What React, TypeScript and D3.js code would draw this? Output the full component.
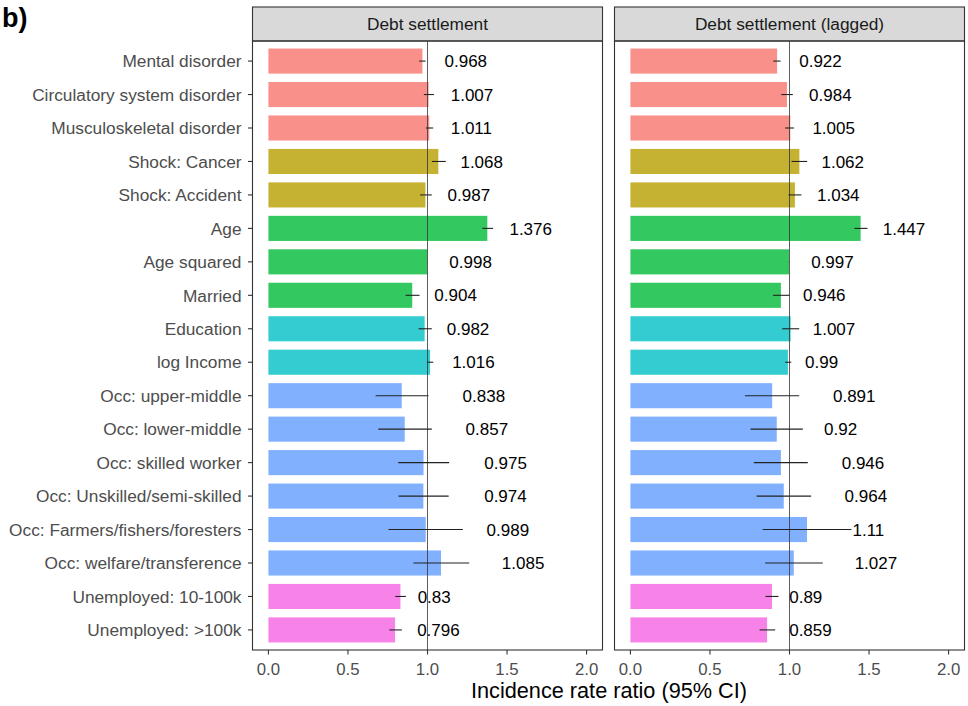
import React from "react";
import * as d3 from "d3";

// Covariates, top to bottom
const covariates = [
  "Mental disorder",
  "Circulatory system disorder",
  "Musculoskeletal disorder",
  "Shock: Cancer",
  "Shock: Accident",
  "Age",
  "Age squared",
  "Married",
  "Education",
  "log Income",
  "Occ: upper-middle",
  "Occ: lower-middle",
  "Occ: skilled worker",
  "Occ: Unskilled/semi-skilled",
  "Occ: Farmers/fishers/foresters",
  "Occ: welfare/transference",
  "Unemployed: 10-100k",
  "Unemployed: >100k",
];

// Covariate group of each row
const groups = [
  "health", "health", "health",
  "shock", "shock",
  "demo", "demo", "demo",
  "ses", "ses",
  "occ", "occ", "occ", "occ", "occ", "occ",
  "unemp", "unemp",
];

const groupOrder = ["health", "shock", "demo", "ses", "occ", "unemp"];
const groupColors = ["#F8766D", "#B79F00", "#00BA38", "#00BFC4", "#619CFF", "#F564E3"];

const panels = ["Debt settlement", "Debt settlement (lagged)"];

// Incidence rate ratios with 95% CI — Debt settlement
const irrDebt = [0.968, 1.007, 1.011, 1.068, 0.987, 1.376, 0.998, 0.904, 0.982, 1.016, 0.838, 0.857, 0.975, 0.974, 0.989, 1.085, 0.83, 0.796];
const lowerDebt = [0.948, 0.977, 0.99, 1.027, 0.954, 1.345, 0.997, 0.862, 0.944, 0.997, 0.674, 0.691, 0.816, 0.818, 0.755, 0.912, 0.797, 0.76];
const upperDebt = [0.988, 1.04, 1.036, 1.115, 1.027, 1.412, 0.999, 0.95, 1.027, 1.036, 1.006, 1.027, 1.136, 1.133, 1.222, 1.262, 0.864, 0.839];

// Incidence rate ratios with 95% CI — Debt settlement (lagged)
const irrLagged = [0.922, 0.984, 1.005, 1.062, 1.034, 1.447, 0.997, 0.946, 1.007, 0.99, 0.891, 0.92, 0.946, 0.964, 1.11, 1.027, 0.89, 0.859];
const lowerLagged = [0.898, 0.948, 0.973, 1.013, 0.994, 1.408, 0.996, 0.896, 0.954, 0.973, 0.72, 0.755, 0.776, 0.793, 0.831, 0.847, 0.849, 0.812];
const upperLagged = [0.944, 1.021, 1.028, 1.111, 1.075, 1.49, 0.998, 1.0, 1.061, 1.011, 1.061, 1.084, 1.115, 1.136, 1.389, 1.209, 0.931, 0.91];

const xTicks = [0, 0.5, 1, 1.5, 2];
const xTitle = "Incidence rate ratio (95% CI)";
const tag = "b)";

const FONT = "'Liberation Sans', Arial, Helvetica, sans-serif";

let measureCtx: CanvasRenderingContext2D | null = null;
function textWidth(s: string, size: number): number {
  if (!measureCtx) {
    const c = document.createElement("canvas");
    measureCtx = c.getContext("2d");
  }
  if (!measureCtx) return s.length * size * 0.5;
  measureCtx.font = `${size}px ${FONT}`;
  return measureCtx.measureText(s).width;
}

const W = 968;
const H = 706;
const panelTop = 41;
const panelBottom = 650;
const stripTop = 7;
const panelX = [
  [252.5, 602.5],
  [614.5, 964.5],
];

export default function App() {
  const series = [
    { est: irrDebt, lo: lowerDebt, hi: upperDebt },
    { est: irrLagged, lo: lowerLagged, hi: upperLagged },
  ];

  const y = d3.scalePoint<string>().domain(covariates).range([panelTop, panelBottom]).padding(0.6);
  const barH = y.step() * 0.75;
  const color = d3.scaleOrdinal<string, string>().domain(groupOrder).range(groupColors);
  const fmt = (v: number) => String(v);
  const labelSize = 17;

  return (
    <svg
      width={W}
      height={H}
      viewBox={`0 0 ${W} ${H}`}
      style={{ position: "absolute", left: 0, top: 0, background: "#fff" }}
      fontFamily={FONT}
    >
      <rect x={0} y={0} width={W} height={H} fill="#fff" />
      <text x={2} y={27} fontSize={27} fontWeight="bold" fill="#000">
        {tag}
      </text>

      {panels.map((title, p) => {
        const [x0, x1] = panelX[p];
        const x = d3.scaleLinear().domain([-0.1, 2.1]).range([x0, x1]);
        const s = series[p];
        return (
          <g key={title}>
            {/* strip */}
            <rect x={x0} y={stripTop} width={x1 - x0} height={panelTop - stripTop} fill="#D9D9D9" stroke="#333" strokeWidth={1.1} />
            <text x={(x0 + x1) / 2} y={(stripTop + panelTop) / 2} dy="0.36em" textAnchor="middle" fontSize={17.3} fill="#1A1A1A">
              {title}
            </text>

            {/* bars */}
            {covariates.map((c, i) => (
              <rect
                key={c}
                x={x(0)}
                y={(y(c) as number) - barH / 2}
                width={x(s.est[i]) - x(0)}
                height={barH}
                fill={color(groups[i])}
                fillOpacity={0.8}
              />
            ))}

            {/* reference line */}
            <line x1={x(1)} x2={x(1)} y1={panelTop} y2={panelBottom} stroke="#333" strokeWidth={0.8} />

            {/* confidence intervals */}
            {covariates.map((c, i) => (
              <line
                key={c}
                x1={x(s.lo[i])}
                x2={x(s.hi[i])}
                y1={y(c) as number}
                y2={y(c) as number}
                stroke="#222"
                strokeWidth={1.1}
              />
            ))}

            {/* value labels */}
            {covariates.map((c, i) => {
              const label = fmt(s.est[i]);
              const hj = groups[i] === "occ" ? 1.43 : 0.52;
              const tx = x(s.est[i]) + hj * textWidth(label, labelSize);
              return (
                <text key={c} x={tx} y={y(c) as number} dy="0.36em" fontSize={labelSize} fill="#000">
                  {label}
                </text>
              );
            })}

            {/* panel border */}
            <rect x={x0} y={panelTop} width={x1 - x0} height={panelBottom - panelTop} fill="none" stroke="#333" strokeWidth={1.1} />

            {/* x axis */}
            {xTicks.map((t) => (
              <g key={t}>
                <line x1={x(t)} x2={x(t)} y1={panelBottom} y2={panelBottom + 4.5} stroke="#333" strokeWidth={1.1} />
                <text x={x(t)} y={panelBottom + 25} textAnchor="middle" fontSize={16.8} fill="#4D4D4D">
                  {d3.format(".1f")(t)}
                </text>
              </g>
            ))}

            {/* y axis (first panel only) */}
            {p === 0 &&
              covariates.map((c) => (
                <g key={c}>
                  <line x1={x0 - 4.5} x2={x0} y1={y(c) as number} y2={y(c) as number} stroke="#333" strokeWidth={1.1} />
                  <text x={x0 - 11} y={y(c) as number} dy="0.36em" textAnchor="end" fontSize={17.3} fill="#4D4D4D">
                    {c}
                  </text>
                </g>
              ))}
          </g>
        );
      })}

      <text x={(panelX[0][0] + panelX[1][1]) / 2 + 0.5} y={698} textAnchor="middle" fontSize={21.7} fill="#000">
        {xTitle}
      </text>
    </svg>
  );
}
